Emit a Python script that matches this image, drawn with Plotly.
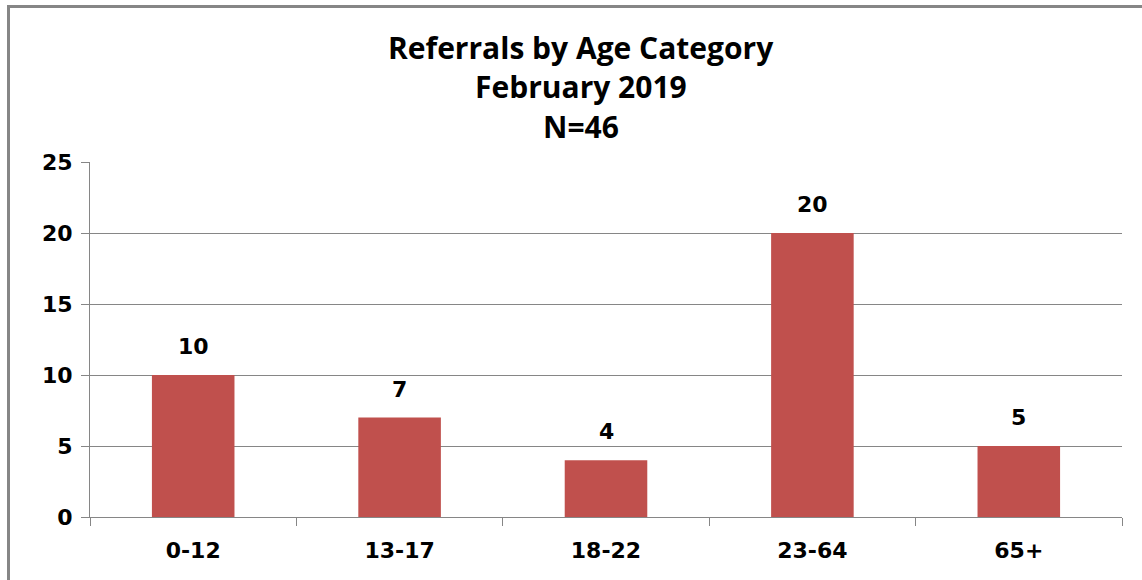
import plotly.graph_objects as go

categories = ["0-12", "13-17", "18-22", "23-64", "65+"]
referrals = [10, 7, 4, 20, 5]
y_ticks = [0, 5, 10, 15, 20, 25]

title_lines = ["Referrals by Age Category", "February 2019", "N=46"]

# layout computed in page pixels (body margin removed via post_script)
W, H = 1142, 580
plot_left, plot_right, plot_top, plot_bottom = 90, 1122, 162, 517
L = plot_left
T = plot_top
R = W - plot_right
B = H - plot_bottom
pw, ph = W - L - R, H - T - B

def px_x(p):
    return (p - L) / pw

def px_y(p):
    return (H - B - p) / ph

TICK_FONT = dict(family="DejaVu Sans", size=22, color="black", weight="bold")

fig = go.Figure()
fig.add_trace(go.Bar(
    x=categories, y=referrals,
    marker=dict(color="#C0504D", line=dict(color="#C0504D", width=0)),
    width=0.4,
    hoverinfo="x+y",
))

for c, v in zip(categories, referrals):
    fig.add_annotation(
        x=c, y=v, text=str(v), showarrow=False,
        yanchor="bottom", yshift=14,
        font=TICK_FONT,
    )

title_y_px = [47, 86, 127]
for line, yp in zip(title_lines, title_y_px):
    fig.add_annotation(
        xref="paper", yref="paper",
        x=px_x(581), y=px_y(yp),
        xanchor="center", yanchor="middle",
        text=line, showarrow=False,
        font=dict(family="Open Sans", size=30, color="black", weight="bold"),
    )

fig.update_layout(
    width=W, height=H,
    margin=dict(l=L, r=R, t=T, b=B),
    paper_bgcolor="white", plot_bgcolor="white",
    showlegend=False,
    xaxis=dict(
        type="category",
        showline=True, linecolor="#868686", linewidth=1,
        ticks="outside", tickson="boundaries", ticklen=8, tickcolor="#868686",
        showgrid=False,
        tickfont=TICK_FONT,
        ticklabelstandoff=14,
    ),
    yaxis=dict(
        range=[0, 25], tickvals=y_ticks,
        showline=True, linecolor="#868686", linewidth=1,
        ticks="outside", ticklen=8, tickcolor="#868686",
        showgrid=True, gridcolor="#868686", gridwidth=1,
        zeroline=False,
        tickfont=TICK_FONT,
        ticklabelstandoff=4,
    ),
    shapes=[dict(
        type="rect", xref="paper", yref="paper",
        x0=px_x(8.5), x1=px_x(1170), y0=px_y(620), y1=px_y(6.5),
        line=dict(color="#868686", width=3), fillcolor="rgba(0,0,0,0)",
        layer="below",
    )],
)

fig.write_html(
    "out.html",
    config={"displayModeBar": False},
    post_script="document.body.style.margin='0';document.body.style.overflow='hidden';",
)
